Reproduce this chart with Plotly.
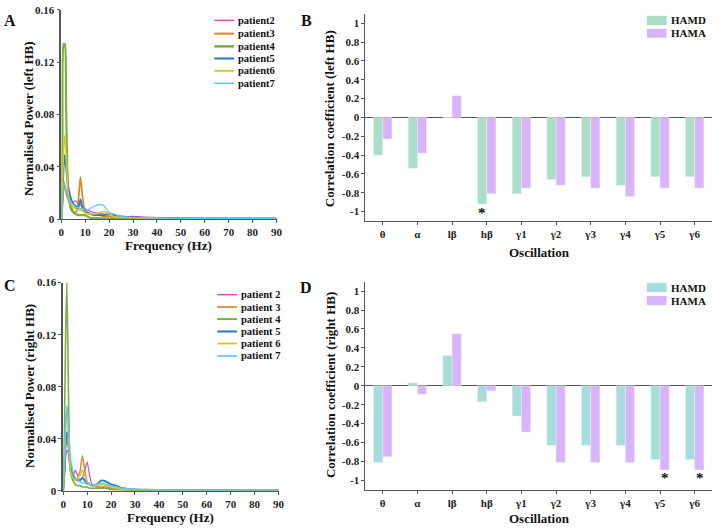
import plotly.graph_objects as go

# ---------------- data ----------------
freq = [0, 0.5, 1, 1.5, 2, 2.5, 3, 4, 5, 6, 7, 8, 9, 10, 11, 12, 14, 16, 18, 20,
        22, 25, 30, 35, 40, 45, 50, 55, 60, 65, 70, 75, 80, 85, 90]

# Left hemisphere (panel A)
p2_left = [0, 0.012, 0.029, 0.026, 0.022, 0.020, 0.018, 0.015, 0.013, 0.014, 0.012, 0.011, 0.009, 0.008, 0.007, 0.006, 0.005, 0.004, 0.004, 0.003,
           0.003, 0.002, 0.002, 0.0015, 0.0012, 0.001, 0.0008, 0.0008, 0.0007, 0.0007, 0.0006, 0.0006, 0.0005, 0.0005, 0.0005]
p3_left = [0, 0.010, 0.027, 0.024, 0.020, 0.017, 0.015, 0.010, 0.006, 0.005, 0.012, 0.032, 0.015, 0.006, 0.005, 0.004, 0.003, 0.003, 0.002, 0.002,
           0.0015, 0.001, 0.001, 0.0008, 0.0006, 0.0005, 0.0004, 0.0004, 0.0004, 0.0003, 0.0003, 0.0003, 0.0003, 0.0003, 0.0003]
p4_left = [0, 0.060, 0.134, 0.134, 0.090, 0.040, 0.020, 0.008, 0.005, 0.004, 0.003, 0.003, 0.003, 0.003, 0.002, 0.001, 0.0008, 0.0006, 0.0005, 0.0004,
           0.0003, 0.0003, 0.0002, 0.0002, 0.0002, 0.0002, 0.0002, 0.0002, 0.0002, 0.0002, 0.0002, 0.0002, 0.0002, 0.0002, 0.0002]
p5_left = [0, 0.015, 0.040, 0.049, 0.040, 0.030, 0.024, 0.016, 0.012, 0.010, 0.008, 0.015, 0.008, 0.006, 0.005, 0.004, 0.003, 0.003, 0.003, 0.004,
           0.003, 0.002, 0.0012, 0.001, 0.0008, 0.0006, 0.0005, 0.0004, 0.0004, 0.0004, 0.0004, 0.0004, 0.0004, 0.0004, 0.0004]
p6_left = [0, 0.025, 0.055, 0.064, 0.050, 0.030, 0.018, 0.012, 0.009, 0.008, 0.007, 0.007, 0.006, 0.005, 0.004, 0.004, 0.004, 0.005, 0.006, 0.004,
           0.002, 0.0015, 0.001, 0.0008, 0.0006, 0.0005, 0.0004, 0.0004, 0.0004, 0.0004, 0.0004, 0.0004, 0.0004, 0.0004, 0.0004]
p7_left = [0, 0.010, 0.028, 0.026, 0.022, 0.019, 0.017, 0.013, 0.011, 0.009, 0.009, 0.008, 0.008, 0.007, 0.007, 0.008, 0.010, 0.011, 0.010, 0.005,
           0.004, 0.002, 0.0012, 0.001, 0.0008, 0.0006, 0.0005, 0.0005, 0.0005, 0.0005, 0.0005, 0.0005, 0.0005, 0.0005, 0.0005]

# Right hemisphere (panel C)
p2_right = [0, 0.010, 0.025, 0.031, 0.030, 0.022, 0.016, 0.010, 0.016, 0.012, 0.008, 0.010, 0.016, 0.022, 0.012, 0.005, 0.003, 0.003, 0.002, 0.002,
            0.0015, 0.001, 0.0008, 0.0007, 0.0007, 0.0006, 0.0006, 0.0007, 0.0008, 0.0008, 0.0007, 0.0006, 0.0006, 0.0005, 0.0005]
p3_right = [0, 0.012, 0.035, 0.040, 0.035, 0.025, 0.015, 0.010, 0.008, 0.010, 0.015, 0.027, 0.016, 0.007, 0.005, 0.004, 0.003, 0.003, 0.003, 0.002,
            0.0015, 0.001, 0.0008, 0.0006, 0.0005, 0.0004, 0.0004, 0.0004, 0.0004, 0.0003, 0.0003, 0.0003, 0.0003, 0.0003, 0.0003]
p4_right = [0, 0.050, 0.120, 0.160, 0.100, 0.040, 0.015, 0.008, 0.005, 0.004, 0.004, 0.003, 0.003, 0.003, 0.002, 0.002, 0.002, 0.002, 0.002, 0.001,
            0.0008, 0.0006, 0.0004, 0.0003, 0.0003, 0.0002, 0.0002, 0.0002, 0.0002, 0.0002, 0.0002, 0.0002, 0.0002, 0.0002, 0.0002]
p5_right = [0, 0.015, 0.035, 0.045, 0.042, 0.030, 0.020, 0.012, 0.009, 0.008, 0.008, 0.010, 0.008, 0.006, 0.005, 0.004, 0.005, 0.008, 0.007, 0.005,
            0.004, 0.002, 0.001, 0.0008, 0.0006, 0.0005, 0.0004, 0.0004, 0.0004, 0.0004, 0.0004, 0.0004, 0.0004, 0.0004, 0.0004]
p6_right = [0, 0.020, 0.050, 0.065, 0.050, 0.030, 0.016, 0.010, 0.008, 0.010, 0.012, 0.016, 0.012, 0.007, 0.005, 0.004, 0.004, 0.005, 0.004, 0.003,
            0.002, 0.001, 0.0008, 0.0006, 0.0005, 0.0004, 0.0004, 0.0004, 0.0004, 0.0004, 0.0004, 0.0004, 0.0004, 0.0004, 0.0004]
p7_right = [0, 0.020, 0.050, 0.065, 0.055, 0.040, 0.025, 0.015, 0.010, 0.008, 0.007, 0.006, 0.006, 0.005, 0.005, 0.004, 0.005, 0.006, 0.005, 0.004,
            0.003, 0.002, 0.001, 0.0008, 0.0006, 0.0005, 0.0005, 0.0005, 0.0005, 0.0005, 0.0005, 0.0005, 0.0005, 0.0005, 0.0005]

patient_names_left = ["patient2", "patient3", "patient4", "patient5", "patient6", "patient7"]
patient_names_right = ["patient 2", "patient 3", "patient 4", "patient 5", "patient 6", "patient 7"]
patient_colors = ["#e040dc", "#d98a2c", "#78b043", "#2b7cc6", "#d4c82a", "#5ec8f2"]

oscillations = ["θ", "α", "lβ", "hβ", "γ1", "γ2", "γ3", "γ4", "γ5", "γ6"]
hamd_left = [-0.40, -0.54, 0.0, -0.92, -0.81, -0.66, -0.63, -0.72, -0.63, -0.63]
hama_left = [-0.23, -0.38, 0.23, -0.81, -0.75, -0.72, -0.75, -0.84, -0.75, -0.75]
hamd_right = [-0.81, 0.03, 0.32, -0.17, -0.32, -0.63, -0.63, -0.63, -0.78, -0.78]
hama_right = [-0.75, -0.09, 0.55, -0.055, -0.49, -0.81, -0.81, -0.81, -0.89, -0.89]

# significance stars: (category index offset, y)
stars_left_x = [3 - 0.15]
stars_left_y = [-1.01]
stars_right_x = [8 + 0.14, 9 + 0.14]
stars_right_y = [-0.97, -0.97]

# ---------------- layout helpers ----------------
W, H = 719, 532
FONT = "Liberation Serif"


def xd(a, b):
    return [a / W, b / W]


def yd(top, bottom):
    return [1 - bottom / H, 1 - top / H]


def px(x):
    return x / W


def py(y):
    return 1 - y / H


fig = go.Figure()

left_series = [p2_left, p3_left, p4_left, p5_left, p6_left, p7_left]
right_series = [p2_right, p3_right, p4_right, p5_right, p6_right, p7_right]
left_widths = [1.2, 1.8, 2.2, 1.8, 1.6, 1.2]
right_widths = [1.2, 1.4, 1.6, 1.8, 1.6, 1.4]

for name, vals, col, w in zip(patient_names_left, left_series, patient_colors, left_widths):
    fig.add_trace(go.Scatter(x=freq, y=vals, mode="lines", name=name,
                             line=dict(color=col, width=w, shape="spline", smoothing=0.6),
                             xaxis="x", yaxis="y", showlegend=False))
for name, vals, col, w in zip(patient_names_right, right_series, patient_colors, right_widths):
    fig.add_trace(go.Scatter(x=freq, y=vals, mode="lines", name=name,
                             line=dict(color=col, width=w, shape="spline", smoothing=0.6),
                             xaxis="x3", yaxis="y3", showlegend=False))

HAMD_B = "#a8dfc6"
HAMD_D = "#a6dcd9"
HAMA_C = "#dab4fa"

fig.add_trace(go.Bar(x=oscillations, y=hamd_left, name="HAMD", marker_color=HAMD_B,
                     xaxis="x2", yaxis="y2", showlegend=False))
fig.add_trace(go.Bar(x=oscillations, y=hama_left, name="HAMA", marker_color=HAMA_C,
                     xaxis="x2", yaxis="y2", showlegend=False))
fig.add_trace(go.Bar(x=oscillations, y=hamd_right, name="HAMD", marker_color=HAMD_D,
                     xaxis="x4", yaxis="y4", showlegend=False))
fig.add_trace(go.Bar(x=oscillations, y=hama_right, name="HAMA", marker_color=HAMA_C,
                     xaxis="x4", yaxis="y4", showlegend=False))

tickfont = dict(family=FONT, size=11, color="#222", weight="bold")
axcol = "#555"

spec_x = dict(range=[0, 90], tickvals=list(range(0, 91, 10)), showline=True, linecolor=axcol,
              linewidth=1, ticks="outside", ticklen=3, tickcolor=axcol, showgrid=False,
              zeroline=False, tickfont=tickfont)
spec_y = dict(range=[0, 0.16], tickvals=[0, 0.04, 0.08, 0.12, 0.16],
              ticktext=["0", "0.04", "0.08", "0.12", "0.16"], showline=True, linecolor=axcol,
              linewidth=1.5, ticks="outside", ticklen=3, tickcolor=axcol, showgrid=False,
              zeroline=False, tickfont=tickfont)
bar_x = dict(type="category", range=[-0.5, 9.5], showline=True, linecolor=axcol, linewidth=1,
             ticks="outside", ticklen=3, tickcolor=axcol, showgrid=False, zeroline=False,
             tickfont=tickfont)
cc_vals = [1, 0.8, 0.6, 0.4, 0.2, 0, -0.2, -0.4, -0.6, -0.8, -1]
cc_text = ["1", "0.8", "0.6", "0.4", "0.2", "0", "-0.2", "-0.4", "-0.6", "-0.8", "-1"]
bar_y = dict(range=[-1.1, 1.1], tickvals=cc_vals, ticktext=cc_text, showline=True,
             linecolor=axcol, linewidth=1, ticks="outside", ticklen=3, tickcolor=axcol,
             showgrid=False, zeroline=True, zerolinecolor="#555", zerolinewidth=1,
             tickfont=tickfont)

fig.update_layout(
    width=W, height=H, margin=dict(l=0, r=0, t=0, b=0),
    paper_bgcolor="white", plot_bgcolor="white",
    barmode="group", bargap=0.47, bargroupgap=0.0,
    xaxis=dict(domain=xd(59, 277), anchor="y", **spec_x),
    yaxis=dict(domain=yd(4, 218), anchor="x", **spec_y),
    xaxis3=dict(domain=xd(61, 279), anchor="y3", **spec_x),
    yaxis3=dict(domain=yd(283, 496), anchor="x3", **spec_y),
    xaxis2=dict(domain=xd(367, 718), anchor="y2", **bar_x),
    yaxis2=dict(domain=yd(8, 220), anchor="x2", **bar_y),
    xaxis4=dict(domain=xd(367, 718), anchor="y4", **bar_x),
    yaxis4=dict(domain=yd(282, 495), anchor="x4", **bar_y),
    showlegend=False,
)

annotations = []
shapes = []


def text(x, y, s, size=13, angle=0, xanchor="center"):
    annotations.append(dict(x=px(x), y=py(y), xref="paper", yref="paper", text=s,
                            showarrow=False, textangle=angle, xanchor=xanchor, yanchor="middle",
                            font=dict(family=FONT, size=size, color="#111", weight="bold")))


# panel letters
text(7, 15, "A", size=16)
text(307, 15, "B", size=16)
text(7, 286, "C", size=16)
text(307, 288, "D", size=16)

# axis titles
text(168, 245, "Frequency (Hz)")
text(26, 115, "Normalised Power (left HB)", angle=-90)
text(543, 252, "Oscillation")
text(331, 115, "Correlation coefficient (left HB)", angle=-90)
text(170, 523, "Frequency (Hz)")
text(27, 389, "Normalised Power (right HB)", angle=-90)
text(543, 524, "Oscillation")
text(331, 388, "Correlation coefficient (right HB)", angle=-90)

# manual legends for spectra
rows_a = [14.7, 28.3, 41.3, 53.7, 66.3, 79]
for name, col, yy, w in zip(patient_names_left, patient_colors, rows_a, left_widths):
    shapes.append(dict(type="line", xref="paper", yref="paper", x0=px(214), x1=px(234),
                       y0=py(yy), y1=py(yy), line=dict(color=col, width=w + 0.3)))
    text(236, yy, name, size=10.5, xanchor="left")
rows_c = [295.3, 308, 320.3, 333, 345.3, 358]
for name, col, yy, w in zip(patient_names_right, patient_colors, rows_c, right_widths):
    shapes.append(dict(type="line", xref="paper", yref="paper", x0=px(217), x1=px(237),
                       y0=py(yy), y1=py(yy), line=dict(color=col, width=w + 0.3)))
    text(239, yy, name, size=10.5, xanchor="left")

# manual legends for bars
for (t, b, col, lab) in [(10, 19.5, HAMD_B, "HAMD"), (23.3, 32.5, HAMA_C, "HAMA")]:
    shapes.append(dict(type="rect", xref="paper", yref="paper", x0=px(652), x1=px(672),
                       y0=py(b), y1=py(t), fillcolor=col, line=dict(width=0)))
    text(674, (t + b) / 2, lab, size=11, xanchor="left")
for (t, b, col, lab) in [(283.3, 292.7, HAMD_D, "HAMD"), (296.7, 306, HAMA_C, "HAMA")]:
    shapes.append(dict(type="rect", xref="paper", yref="paper", x0=px(652), x1=px(672),
                       y0=py(b), y1=py(t), fillcolor=col, line=dict(width=0)))
    text(674, (t + b) / 2, lab, size=11, xanchor="left")

# significance stars
for sx, sy in zip(stars_left_x, stars_left_y):
    annotations.append(dict(x=sx, y=sy, xref="x2", yref="y2", text="*", showarrow=False,
                            font=dict(family=FONT, size=15, color="#111", weight="bold"),
                            yanchor="middle"))
for sx, sy in zip(stars_right_x, stars_right_y):
    annotations.append(dict(x=sx, y=sy, xref="x4", yref="y4", text="*", showarrow=False,
                            font=dict(family=FONT, size=15, color="#111", weight="bold"),
                            yanchor="middle"))

fig.update_layout(annotations=annotations, shapes=shapes)

fig.write_html("out.html", config={"displayModeBar": False},
               post_script="document.body.style.margin='0px';document.body.style.overflow='hidden';")
